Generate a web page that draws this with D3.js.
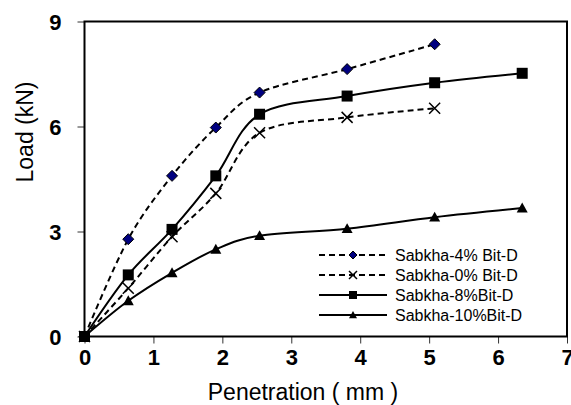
<!DOCTYPE html>
<html>
<head>
<meta charset="utf-8">
<script src="https://cdn.jsdelivr.net/npm/d3@7"></script>
<style>
  body { margin: 0; background: #fff; }
  svg { display: block; font-family: "Liberation Sans", Arial, sans-serif; }
</style>
</head>
<body>
<svg width="571" height="405"></svg>
<script>
// penetration readings (mm)
var penetration = [0, 0.635, 1.27, 1.905, 2.54, 3.81, 5.08, 6.35];

// load (kN) per mix
var load4 = [0, 2.78, 4.59, 5.97, 6.97, 7.64, 8.35];
var load0 = [0, 1.38, 2.85, 4.09, 5.82, 6.26, 6.52];
var load8 = [0, 1.76, 3.06, 4.59, 6.35, 6.87, 7.25, 7.52];
var load10 = [0, 1.02, 1.82, 2.49, 2.88, 3.08, 3.41, 3.67];

var seriesNames = ["Sabkha-4% Bit-D", "Sabkha-0% Bit-D", "Sabkha-8%Bit-D", "Sabkha-10%Bit-D"];
var xTicks = [0, 1, 2, 3, 4, 5, 6, 7];
var yTicks = [0, 3, 6, 9];

var series = [
  {name: seriesNames[0], values: load4, dash: "6,4", marker: "diamond"},
  {name: seriesNames[1], values: load0, dash: "6,4", marker: "cross"},
  {name: seriesNames[2], values: load8, dash: null, marker: "square"},
  {name: seriesNames[3], values: load10, dash: null, marker: "triangle"}
];

var svg = d3.select("svg");
var plotLeft = 84.5, plotRight = 567, plotTop = 21.5, plotBottom = 336.5;

var x = d3.scaleLinear().domain([0, 7]).range([plotLeft, plotRight]);
var y = d3.scaleLinear().domain([0, 9]).range([plotBottom, plotTop]);

// axes
var xAxis = svg.append("g")
    .attr("transform", "translate(0," + plotBottom + ")")
    .call(d3.axisBottom(x).tickValues(xTicks).tickFormat(d3.format("d")).tickSize(7).tickPadding(6));
var yAxis = svg.append("g")
    .attr("transform", "translate(" + plotLeft + ",0)")
    .call(d3.axisLeft(y).tickValues(yTicks).tickFormat(d3.format("d")).tickSize(7).tickPadding(16));

[xAxis, yAxis].forEach(function(a) {
  a.select(".domain").remove();
  a.selectAll(".tick line").attr("stroke", "#333");
  a.selectAll(".tick text")
    .attr("font-family", "Liberation Sans, Arial, sans-serif")
    .attr("font-size", 22)
    .attr("font-weight", "bold")
    .attr("fill", "#000");
});
yAxis.selectAll(".tick text").attr("dy", "0.36em");

// plot frame
svg.append("rect")
    .attr("x", plotLeft).attr("y", plotTop)
    .attr("width", plotRight - plotLeft).attr("height", plotBottom - plotTop)
    .attr("fill", "none").attr("stroke", "#000").attr("stroke-width", 2);

var line = d3.line()
    .x(function(d) { return x(d[0]); })
    .y(function(d) { return y(d[1]); })
    .curve(d3.curveCardinal.tension(0));

function drawMarker(g, type, s) {
  if (type === "diamond") {
    g.append("path")
      .attr("d", "M0," + (-s) + "L" + s + ",0L0," + s + "L" + (-s) + ",0Z")
      .attr("fill", "#000080").attr("stroke", "#000").attr("stroke-width", 1);
  } else if (type === "square") {
    g.append("rect")
      .attr("x", -s).attr("y", -s).attr("width", 2 * s).attr("height", 2 * s)
      .attr("fill", "#000");
  } else if (type === "triangle") {
    g.append("path")
      .attr("d", "M0," + (-s) + "L" + s + "," + (s * 0.8) + "L" + (-s) + "," + (s * 0.8) + "Z")
      .attr("fill", "#000");
  } else {
    g.append("path")
      .attr("d", "M" + (-s) + "," + (-s) + "L" + s + "," + s + "M" + s + "," + (-s) + "L" + (-s) + "," + s)
      .attr("stroke", "#000").attr("stroke-width", 1.5).attr("fill", "none");
  }
}

series.forEach(function(s) {
  var pts = s.values.map(function(v, i) { return [penetration[i], v]; });
  svg.append("path")
      .datum(pts)
      .attr("d", line)
      .attr("fill", "none")
      .attr("stroke", "#000")
      .attr("stroke-width", 2)
      .attr("stroke-dasharray", s.dash);
  svg.append("g").selectAll("g")
      .data(pts)
      .enter().append("g")
      .attr("transform", function(d) { return "translate(" + x(d[0]) + "," + y(d[1]) + ")"; })
      .each(function() {
        drawMarker(d3.select(this), s.marker, 5.5);
      });
});

// legend
var legend = svg.append("g").attr("transform", "translate(319,255)");
series.forEach(function(s, i) {
  var row = legend.append("g").attr("transform", "translate(0," + (i * 20) + ")");
  row.append("line")
      .attr("x1", 0).attr("x2", 68).attr("y1", 0).attr("y2", 0)
      .attr("stroke", "#000").attr("stroke-width", 2)
      .attr("stroke-dasharray", s.dash);
  drawMarker(row.append("g").attr("transform", "translate(34,0)"), s.marker, 4);
  row.append("text")
      .attr("x", 76).attr("y", 0).attr("dy", "0.35em")
      .attr("font-size", 16)
      .text(s.name);
});

// axis titles
svg.append("text")
    .attr("x", 303).attr("y", 400)
    .attr("text-anchor", "middle")
    .attr("font-size", 23)
    .text("Penetration ( mm )");

svg.append("text")
    .attr("transform", "translate(33,132) rotate(-90)")
    .attr("text-anchor", "middle")
    .attr("font-size", 23)
    .text("Load (kN)");
</script>
</body>
</html>
